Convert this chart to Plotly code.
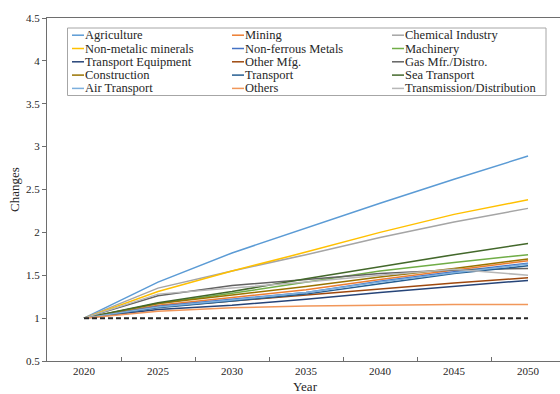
import plotly.graph_objects as go

# Years on the category axis
years = [2020, 2025, 2030, 2035, 2040, 2045, 2050]

# Relative change per sector (2020 = 1)
agriculture = [1.00, 1.42, 1.76, 2.05, 2.34, 2.62, 2.89]
mining = [1.00, 1.15, 1.24, 1.33, 1.45, 1.56, 1.67]
chemical_industry = [1.00, 1.35, 1.55, 1.74, 1.94, 2.12, 2.28]
non_metalic_minerals = [1.00, 1.31, 1.55, 1.77, 2.00, 2.21, 2.38]
non_ferrous_metals = [1.00, 1.14, 1.22, 1.30, 1.43, 1.54, 1.64]
machinery = [1.00, 1.17, 1.29, 1.42, 1.55, 1.65, 1.74]
transport_equipment = [1.00, 1.10, 1.15, 1.22, 1.30, 1.37, 1.44]
other_mfg = [1.00, 1.13, 1.20, 1.27, 1.34, 1.41, 1.47]
gas_mfr = [1.00, 1.26, 1.38, 1.45, 1.52, 1.56, 1.58]
construction = [1.00, 1.17, 1.27, 1.37, 1.48, 1.58, 1.69]
transport = [1.00, 1.12, 1.20, 1.28, 1.40, 1.52, 1.61]
sea_transport = [1.00, 1.18, 1.31, 1.46, 1.60, 1.74, 1.87]
air_transport = [1.00, 1.13, 1.21, 1.30, 1.42, 1.53, 1.63]
others = [1.00, 1.08, 1.12, 1.14, 1.15, 1.16, 1.16]
transmission = [1.00, 1.28, 1.35, 1.42, 1.50, 1.57, 1.50]
baseline = [1, 1, 1, 1, 1, 1, 1]

names = ["Agriculture", "Mining", "Chemical Industry",
         "Non-metalic minerals", "Non-ferrous Metals", "Machinery",
         "Transport Equipment", "Other Mfg.", "Gas Mfr./Distro.",
         "Construction", "Transport", "Sea Transport",
         "Air Transport", "Others", "Transmission/Distribution"]
series = [agriculture, mining, chemical_industry, non_metalic_minerals,
          non_ferrous_metals, machinery, transport_equipment, other_mfg,
          gas_mfr, construction, transport, sea_transport, air_transport,
          others, transmission]
colors = ["#5B9BD5", "#ED7D31", "#A5A5A5", "#FFC000", "#4472C4", "#70AD47",
          "#264478", "#9E480E", "#636363", "#997300", "#255E91", "#43682B",
          "#7CAFDD", "#F1975A", "#B7B7B7"]

W, H = 560, 394
L, R, T, B = 47, 0, 18, 33
PW, PH = W - L - R, H - T - B
FONT = "'Liberation Serif'"
TXT = "#262626"
AX = "#6E6E6E"

fig = go.Figure()
for name, vals, col in zip(names, series, colors):
    fig.add_trace(go.Scatter(x=years, y=vals, name=name, mode="lines",
                             line=dict(color=col, width=1.5),
                             showlegend=False))
fig.add_trace(go.Scatter(x=years, y=baseline, mode="lines", showlegend=False,
                         line=dict(color="#262626", width=2, dash="5px,3px")))


def px_x(p):
    return (p - L) / PW


def px_y(p):
    return (H - B - p) / PH


# Legend: three columns, five rows, boxed
shapes = [dict(type="rect", xref="paper", yref="paper",
               x0=px_x(67.5), x1=px_x(546), y0=px_y(95.5), y1=px_y(28),
               line=dict(color="#A6A6A6", width=1), fillcolor="white",
               layer="above")]
annotations = []
col_x = [72, 232, 392]
row_y = [35.2, 48.5, 61.8, 75.1, 88.4]
for i, (name, col) in enumerate(zip(names, colors)):
    cx = col_x[i % 3]
    ry = row_y[i // 3]
    shapes.append(dict(type="line", xref="paper", yref="paper",
                       x0=px_x(cx), x1=px_x(cx + 12), y0=px_y(ry), y1=px_y(ry),
                       line=dict(color=col, width=1.5), layer="above"))
    annotations.append(dict(xref="paper", yref="paper", x=px_x(cx + 11.5),
                            y=px_y(ry), xanchor="left", yanchor="middle",
                            text=name, showarrow=False, borderpad=0,
                            font=dict(family=FONT, size=12.5, color=TXT)))

# Axis titles
annotations.append(dict(xref="paper", yref="paper", x=px_x(305), y=px_y(387),
                        text="Year", showarrow=False, xanchor="center",
                        yanchor="middle",
                        font=dict(family=FONT, size=13, color=TXT)))
annotations.append(dict(xref="paper", yref="paper", x=px_x(14), y=px_y(190),
                        text="Changes", showarrow=False, textangle=-90,
                        xanchor="center", yanchor="middle",
                        font=dict(family=FONT, size=13, color=TXT)))

fig.update_layout(
    width=W, height=H,
    margin=dict(l=L, r=R, t=T, b=B, autoexpand=False),
    paper_bgcolor="white", plot_bgcolor="white",
    font=dict(family=FONT, color=TXT),
    shapes=shapes, annotations=annotations,
    xaxis=dict(range=[2017.5, 2052.16], tickvals=years,
               ticktext=[str(y) for y in years], ticks="",
               showgrid=False, zeroline=False,
               showline=True, linecolor=AX, linewidth=1, mirror=True,
               tickfont=dict(family=FONT, size=11, color=TXT),
               minor=dict(tickvals=[2022.5, 2027.5, 2032.5, 2037.5,
                                    2042.5, 2047.5],
                          ticks="inside", ticklen=4, tickcolor=AX,
                          tickwidth=1, showgrid=False),
               automargin=False),
    yaxis=dict(range=[0.5, 4.5], dtick=0.5, tick0=0.5, ticks="outside",
               ticklen=4, tickcolor=AX, showgrid=False, zeroline=False,
               showline=True, linecolor=AX, linewidth=1,
               tickfont=dict(family=FONT, size=11, color=TXT),
               automargin=False),
)

fig.write_html("out.html")
